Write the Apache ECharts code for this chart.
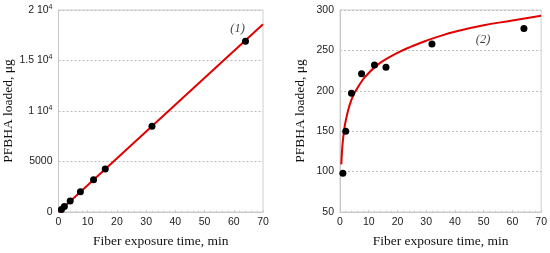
<!DOCTYPE html>
<html>
<head>
<meta charset="utf-8">
<script src="https://cdn.jsdelivr.net/npm/echarts@6/dist/echarts.min.js"></script>
<style>html,body{margin:0;padding:0;background:#fff}#c{width:550px;height:253px}</style>
</head>
<body>
<div id="c"></div>
<script>
// Panel (1): measured points
const time1 = [1, 2, 4, 7.5, 12, 16, 32, 64];
const loaded1 = [250, 550, 1100, 2000, 3200, 4250, 8500, 16900];
// Panel (1): fitted straight line (read endpoints)
const fitX1 = [0, 70];
const fitY1 = [0, 18600];
// Panel (2): measured points
const time2 = [1, 2, 4, 7.5, 12, 16, 32, 64];
const loaded2 = [98, 150, 197, 221, 232, 229, 258, 277];
// Panel (2): fitted curve
const fitX2 = [0.45, 0.6, 0.8, 1, 1.5, 2, 3, 4, 5, 6, 8, 10, 12, 15, 20, 25, 30, 35, 40, 50, 60, 70];
const fitY2 = [109, 119, 130, 138, 153, 163, 178, 189, 197, 203, 214, 222, 229, 237, 247, 255, 262, 268, 273, 281, 287, 293];
// Tick settings
const xTicks = [0, 10, 20, 30, 40, 50, 60, 70];
const yTicks1 = [0, 5000, 10000, 15000, 20000];
const yTicks2 = [50, 100, 150, 200, 250, 300];
const curveLabels = ['(1)', '(2)'];
const labelPos1 = [61.3, 18140];
const labelPos2 = [49.8, 263];
const xName = 'Fiber exposure time, min';
const yName = 'PFBHA loaded, μg';

const zip = (a, b) => a.map((v, i) => [v, b[i]]);
const sans = 'Liberation Sans, Arial, sans-serif';
const serif = 'Liberation Serif, Times New Roman, serif';

function yFmt1(v) {
  if (v === 0) return '0';
  if (v === 5000) return '5000';
  return (v / 10000) + ' 10{sup|4}';
}

function xAxis(idx) {
  return {
    gridIndex: idx, type: 'value', min: xTicks[0], max: xTicks[xTicks.length - 1], interval: 10,
    name: xName, nameLocation: 'middle', nameGap: 22,
    nameTextStyle: { fontFamily: serif, fontSize: 13.5, color: '#111' },
    axisLine: { show: true, lineStyle: { color: '#c8c8c8' } },
    axisTick: { show: true, length: 2, inside: true, lineStyle: { color: '#c8c8c8' } },
    minorTick: { show: true, splitNumber: 5, length: 1.5, lineStyle: { color: '#d0d0d0' } },
    axisLabel: { fontFamily: sans, fontSize: 10.5, color: '#222', margin: 5 },
    splitLine: { show: false }
  };
}
function yAxis(idx, min, max, interval, fmt, gap) {
  return {
    gridIndex: idx, type: 'value', min: min, max: max, interval: interval,
    name: yName, nameLocation: 'middle', nameGap: gap, nameRotate: 90,
    nameTextStyle: { fontFamily: serif, fontSize: 13.5, color: '#111' },
    axisLine: { show: true, lineStyle: { color: '#c8c8c8' } },
    axisTick: { show: false },
    axisLabel: {
      fontFamily: sans, fontSize: 10.5, color: '#222', margin: 6, formatter: fmt,
      rich: { sup: { fontFamily: sans, fontSize: 7, verticalAlign: 'top', padding: [0, 0, 6, 0], color: '#222' } }
    },
    splitLine: { show: true, lineStyle: { color: '#bdbdbd', type: [2, 2], width: 1 } }
  };
}

const chart = echarts.init(document.getElementById('c'), null, { renderer: 'canvas' });
chart.setOption({
  animation: false,
  grid: [
    { left: 58.5, top: 10, width: 204.5, height: 204, show: true, borderColor: '#d0d0d0', borderWidth: 1 },
    { left: 340, top: 10, width: 203.7, height: 203, show: true, borderColor: '#d0d0d0', borderWidth: 1 }
  ],
  xAxis: [xAxis(0), xAxis(1)],
  yAxis: [
    yAxis(0, yTicks1[0], yTicks1[yTicks1.length - 1], 5000, yFmt1, 42),
    yAxis(1, yTicks2[0], yTicks2[yTicks2.length - 1], 50, v => String(v), 33)
  ],
  series: [
    { type: 'line', xAxisIndex: 0, yAxisIndex: 0, data: zip(fitX1, fitY1), showSymbol: false,
      lineStyle: { color: '#e00000', width: 2 }, z: 2 },
    { type: 'scatter', xAxisIndex: 0, yAxisIndex: 0, data: zip(time1, loaded1), symbolSize: 7,
      itemStyle: { color: '#000', opacity: 1 }, z: 3 },
    { type: 'line', xAxisIndex: 1, yAxisIndex: 1, data: zip(fitX2, fitY2), showSymbol: false, smooth: true,
      lineStyle: { color: '#e00000', width: 2 }, z: 2 },
    { type: 'scatter', xAxisIndex: 1, yAxisIndex: 1, data: zip(time2, loaded2), symbolSize: 7,
      itemStyle: { color: '#000', opacity: 1 }, z: 3 },
    { type: 'scatter', xAxisIndex: 0, yAxisIndex: 0, data: [labelPos1], symbolSize: 0, silent: true,
      label: { show: true, position: 'inside', formatter: curveLabels[0], fontFamily: serif, fontStyle: 'italic', fontSize: 12.5, color: '#111' } },
    { type: 'scatter', xAxisIndex: 1, yAxisIndex: 1, data: [labelPos2], symbolSize: 0, silent: true,
      label: { show: true, position: 'inside', formatter: curveLabels[1], fontFamily: serif, fontStyle: 'italic', fontSize: 12.5, color: '#111' } }
  ]
});
</script>
</body>
</html>
